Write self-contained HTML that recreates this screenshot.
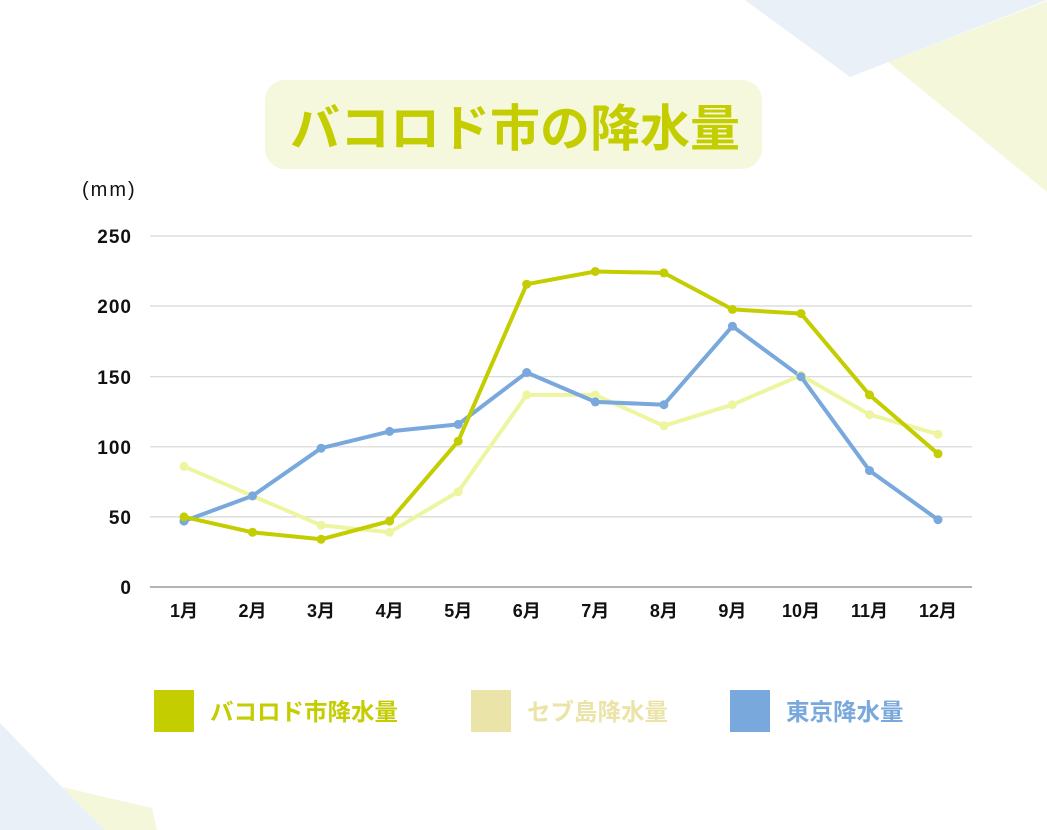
<!DOCTYPE html>
<html><head><meta charset="utf-8"><style>
body{margin:0;background:#fff}
svg{display:block}
text{font-family:"Liberation Sans","Noto Sans CJK JP",sans-serif}
</style></head><body>
<svg width="1047" height="830" viewBox="0 0 1047 830" xmlns="http://www.w3.org/2000/svg">
<polygon points="745,0 1047,0 850,77" fill="#e9f0f8"/>
<polygon points="888,62 1047,1 1047,192" fill="#f5f7da"/>
<polygon points="0,723 62,787 105,830 0,830" fill="#e9f0f8"/>
<polygon points="62,787 152,808 157,830 105,830" fill="#f5f7da"/>
<rect x="265" y="80" width="497" height="89" rx="20" fill="#f5f8dc"/>
<text x="515" y="146" text-anchor="middle" font-size="50" font-weight="bold" fill="#c3cd00">バコロド市の降水量</text>
<text x="82" y="196" font-size="20" letter-spacing="2" fill="#111">(mm)</text>
<g stroke="#d6d6d6" stroke-width="1.2">
<line x1="150" y1="236" x2="972" y2="236"/><line x1="150" y1="306" x2="972" y2="306"/>
<line x1="150" y1="376.7" x2="972" y2="376.7"/><line x1="150" y1="446.8" x2="972" y2="446.8"/>
<line x1="150" y1="516.9" x2="972" y2="516.9"/></g>
<line x1="150" y1="587" x2="972" y2="587" stroke="#888" stroke-width="1.2"/>
<g font-size="19" font-weight="bold" fill="#111" text-anchor="end" letter-spacing="1">
<text x="132" y="243">250</text><text x="132" y="313">200</text><text x="132" y="384">150</text>
<text x="132" y="454">100</text><text x="132" y="524">50</text><text x="132" y="594">0</text></g>
<g font-size="18" font-weight="bold" fill="#111" text-anchor="middle">
<text x="184" y="617">1月</text><text x="252.5" y="617">2月</text><text x="321" y="617">3月</text>
<text x="389.6" y="617">4月</text><text x="458.2" y="617">5月</text><text x="526.7" y="617">6月</text>
<text x="595.3" y="617">7月</text><text x="663.9" y="617">8月</text><text x="732.4" y="617">9月</text>
<text x="801" y="617">10月</text><text x="869.5" y="617">11月</text><text x="938" y="617">12月</text>
</g>
<g fill="none" stroke-width="4" stroke-linejoin="round">
<polyline stroke="#edf5a0" points="184,466.4 252.5,495.9 321.1,525.3 389.6,532.3 458.2,491.7 526.7,394.9 595.3,394.9 663.9,425.8 732.4,404.7 801,375.3 869.5,414.6 938,434.2"/>
<polyline stroke="#79a8dc" points="184,521.1 252.5,495.9 321.1,448.2 389.6,431.4 458.2,424.4 526.7,372.5 595.3,401.9 663.9,404.7 732.4,326.2 801,376.7 869.5,470.6 938,519.7"/>
<polyline stroke="#c3cd00" points="184,516.9 252.5,532.3 321.1,539.3 389.6,521.1 458.2,441.2 526.7,284.2 595.3,271.5 663.9,272.9 732.4,309.4 801,313.6 869.5,394.9 938,453.8"/>
</g>
<g fill="#edf5a0"><circle cx="184" cy="466.4" r="4.5"/><circle cx="252.5" cy="495.9" r="4.5"/><circle cx="321.1" cy="525.3" r="4.5"/><circle cx="389.6" cy="532.3" r="4.5"/><circle cx="458.2" cy="491.7" r="4.5"/><circle cx="526.7" cy="394.9" r="4.5"/><circle cx="595.3" cy="394.9" r="4.5"/><circle cx="663.9" cy="425.8" r="4.5"/><circle cx="732.4" cy="404.7" r="4.5"/><circle cx="801" cy="375.3" r="4.5"/><circle cx="869.5" cy="414.6" r="4.5"/><circle cx="938" cy="434.2" r="4.5"/></g>
<g fill="#79a8dc"><circle cx="184" cy="521.1" r="4.5"/><circle cx="252.5" cy="495.9" r="4.5"/><circle cx="321.1" cy="448.2" r="4.5"/><circle cx="389.6" cy="431.4" r="4.5"/><circle cx="458.2" cy="424.4" r="4.5"/><circle cx="526.7" cy="372.5" r="4.5"/><circle cx="595.3" cy="401.9" r="4.5"/><circle cx="663.9" cy="404.7" r="4.5"/><circle cx="732.4" cy="326.2" r="4.5"/><circle cx="801" cy="376.7" r="4.5"/><circle cx="869.5" cy="470.6" r="4.5"/><circle cx="938" cy="519.7" r="4.5"/></g>
<g fill="#c3cd00"><circle cx="184" cy="516.9" r="4.5"/><circle cx="252.5" cy="532.3" r="4.5"/><circle cx="321.1" cy="539.3" r="4.5"/><circle cx="389.6" cy="521.1" r="4.5"/><circle cx="458.2" cy="441.2" r="4.5"/><circle cx="526.7" cy="284.2" r="4.5"/><circle cx="595.3" cy="271.5" r="4.5"/><circle cx="663.9" cy="272.9" r="4.5"/><circle cx="732.4" cy="309.4" r="4.5"/><circle cx="801" cy="313.6" r="4.5"/><circle cx="869.5" cy="394.9" r="4.5"/><circle cx="938" cy="453.8" r="4.5"/></g>
<rect x="154" y="690" width="40" height="42" fill="#c3cd00"/>
<text x="210" y="720" font-size="23.5" font-weight="bold" fill="#c3cd00">バコロド市降水量</text>
<rect x="471" y="690" width="40" height="42" fill="#ebe4a8"/>
<text x="527" y="720" font-size="23.5" font-weight="bold" fill="#ebe4a8">セブ島降水量</text>
<rect x="730" y="690" width="40" height="42" fill="#79a8dc"/>
<text x="786" y="720" font-size="23.5" font-weight="bold" fill="#79a8dc">東京降水量</text>
</svg>
</body></html>
